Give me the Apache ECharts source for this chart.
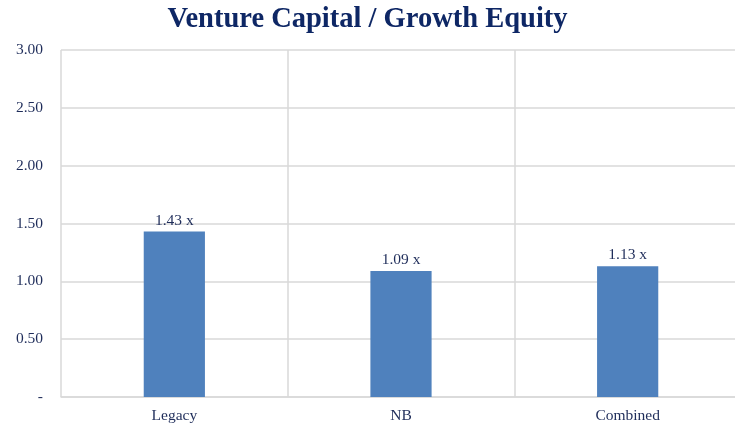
<!DOCTYPE html>
<html><head><meta charset="utf-8">
<script src="https://cdn.jsdelivr.net/npm/echarts@6/dist/echarts.min.js"></script>
<style>html,body{margin:0;padding:0;background:#fff}#c{width:735px;height:430px}</style>
</head><body><div id="c"></div>
<script>
const categories = ["Legacy", "NB", "Combined"];
const values = [1.43, 1.09, 1.13];
const yTicks = [0, 0.5, 1, 1.5, 2, 2.5, 3];
const title = "Venture Capital / Growth Equity";

const chart = echarts.init(document.getElementById('c'));
const serif = '"Liberation Serif", "Times New Roman", serif';
const navy = '#1F2D5A';
chart.setOption({
  animation: false,
  title: { text: title, left: 'center', top: 0,
    textStyle: { fontFamily: serif, fontSize: 28.5, fontWeight: 'bold', color: '#0E2765' } },
  grid: { left: 61, width: 680, top: 50, height: 347, containLabel: false, outerBoundsMode: 'none' },
  xAxis: { type: 'category', data: categories,
    axisLine: { show: true, lineStyle: { color: '#d9d9d9', width: 1.5 } },
    axisTick: { show: false },
    splitLine: { show: true, lineStyle: { color: '#d9d9d9', width: 1.5 } },
    axisLabel: { fontFamily: serif, fontSize: 15.5, color: navy, margin: 11 } },
  yAxis: { type: 'value', min: 0, max: 3, interval: 0.5,
    axisLine: { show: false }, axisTick: { show: false },
    splitLine: { show: true, lineStyle: { color: '#d9d9d9', width: 1.5 } },
    axisLabel: { fontFamily: serif, fontSize: 15.5, color: navy, margin: 18, padding: [3, 0, 0, 0],
      formatter: v => v === 0 ? '-' : v.toFixed(2) } },
  series: [{ type: 'bar', data: values, barWidth: '27%',
    itemStyle: { color: '#4F81BD' },
    label: { show: true, position: 'top', distance: 3, fontFamily: serif, fontSize: 15.5, color: navy,
      formatter: p => p.value.toFixed(2) + ' x' } }]
});
</script></body></html>
